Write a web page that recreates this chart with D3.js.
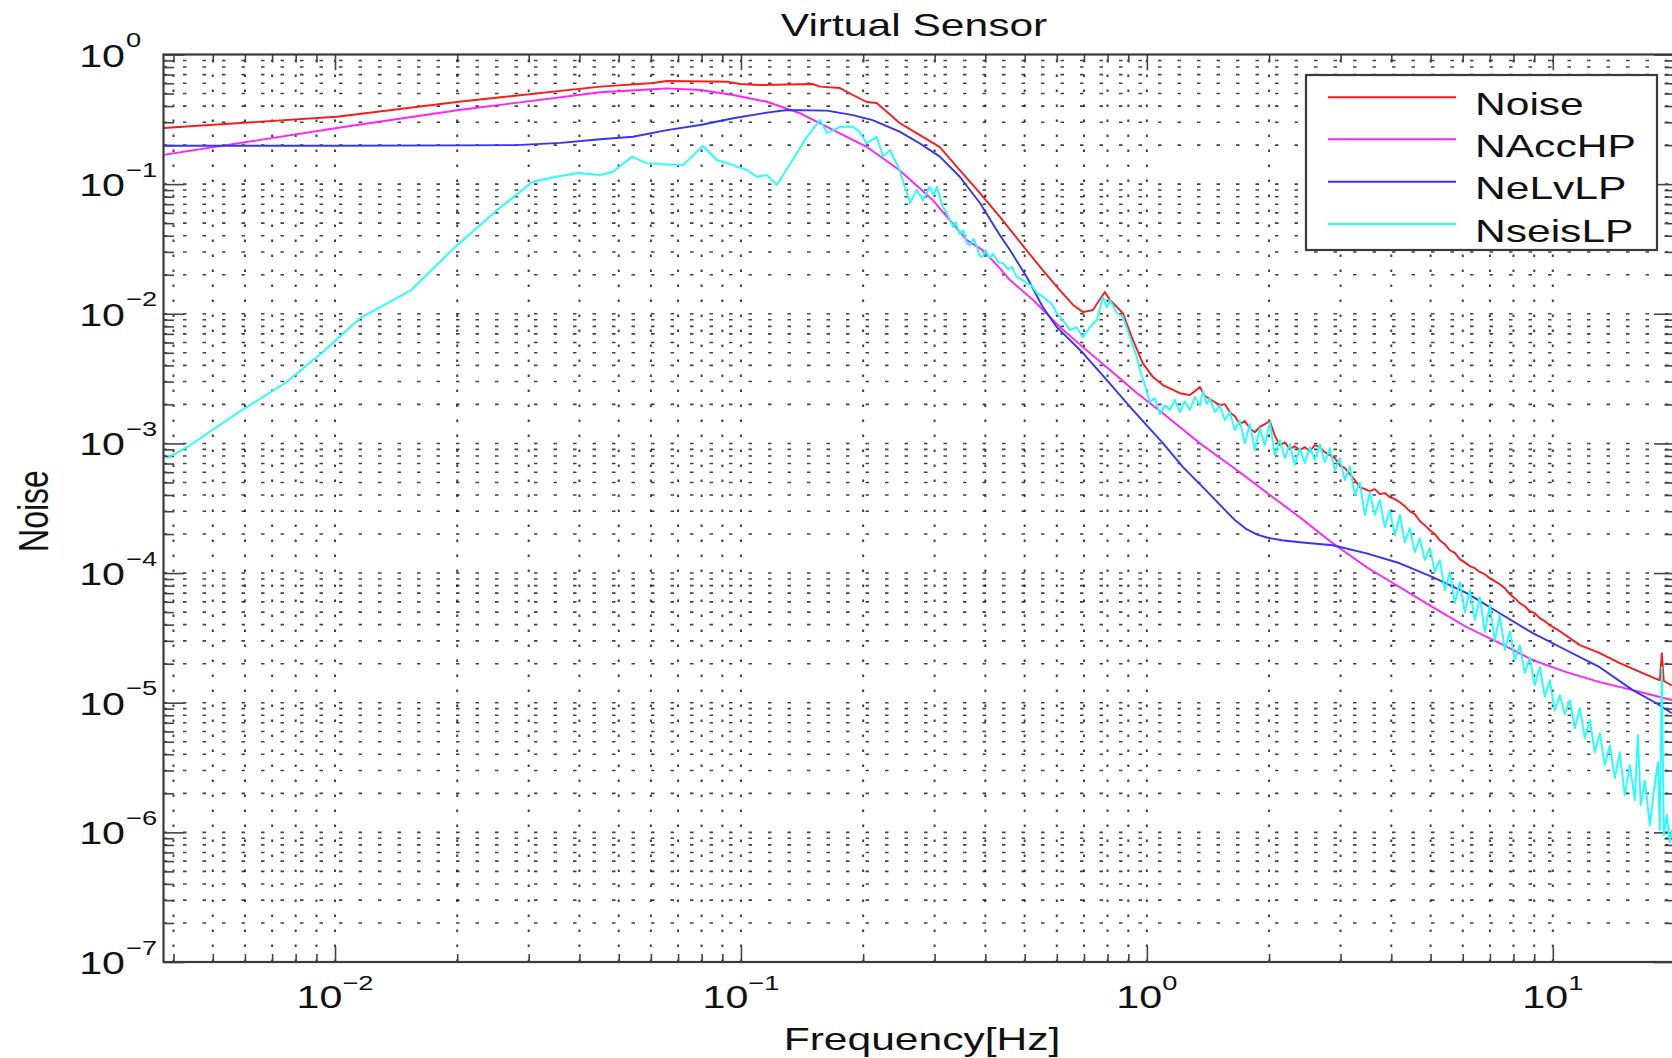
<!DOCTYPE html>
<html>
<head>
<meta charset="utf-8">
<script src="https://cdn.jsdelivr.net/npm/d3@7"></script>
<style>
  html, body { margin: 0; padding: 0; background: #fff; }
  svg { display: block; }
  text { font-family: "Liberation Sans", Arial, Helvetica, sans-serif; fill: #111; }
</style>
</head>
<body>
<svg id="chart" width="1672" height="1058"></svg>
<script>
// Virtual sensor noise budget: amplitude spectra of the noise contributions vs frequency.
const seriesNames  = ["Noise", "NAccHP", "NeLvLP", "NseisLP"];
const seriesColors = ["#ff1a1a", "#ff22ff", "#3333ff", "#22ffff"];

// [frequency in Hz, noise amplitude]
const noise = [
  [0.00378,0.271],[0.0101,0.331],[0.0202,0.432],[0.045,0.565],[0.0607,0.603],[0.0657,0.624],
  [0.0924,0.617],[0.0995,0.592],[0.1114,0.582],[0.150,0.592],[0.1566,0.565],[0.1754,0.551],
  [0.1887,0.487],[0.204,0.430],[0.216,0.423],[0.246,0.296],[0.276,0.239],[0.309,0.193],
  [0.346,0.128],[0.388,0.0854],[0.435,0.0557],[0.505,0.0310],[0.554,0.0217],[0.610,0.0152],
  [0.658,0.0117],[0.696,0.0103],[0.736,0.0107],[0.788,0.0147],[0.811,0.0128],[0.873,0.0101],
  [0.924,0.00626],[0.977,0.00416],[1.035,0.00325],[1.095,0.00282],[1.206,0.00244],
  [1.276,2.36e-3],[1.313,2.53e-3],[1.351,2.72e-3],[1.390,2.32e-3],[1.429,2.20e-3],[1.471,2.08e-3],
  [1.513,1.97e-3],[1.556,2.01e-3],[1.601,1.74e-3],[1.647,1.62e-3],[1.694,1.41e-3],[1.743,1.49e-3],
  [1.794,1.31e-3],[1.845,1.22e-3],[1.898,1.34e-3],[1.953,1.41e-3],[2.009,1.49e-3],[2.067,1.14e-3],
  [2.126,9.70e-4],[2.188,1.02e-3],[2.250,9.04e-4],[2.315,9.53e-4],[2.381,8.88e-4],[2.450,9.36e-4],
  [2.520,8.73e-4],[2.593,9.70e-4],[2.668,9.36e-4],[2.744,8.57e-4],[2.823,8.13e-4],[2.905,7.70e-4],
  [2.988,6.81e-4],[3.074,6.45e-4],[3.162,5.79e-4],[3.253,5.21e-4],[3.347,4.60e-4],[3.443,4.44e-4],
  [3.542,4.28e-4],[3.644,4.44e-4],[3.749,4.06e-4],[3.857,4.14e-4],[3.967,3.85e-4],[4.082,3.72e-4],
  [4.199,3.52e-4],[4.320,3.28e-4],[4.444,3.00e-4],[4.572,2.85e-4],[4.703,2.52e-4],[4.839,2.34e-4],
  [4.977,2.14e-4],[5.121,2.00e-4],[5.268,1.79e-4],[5.420,1.67e-4],[5.575,1.50e-4],[5.736,1.43e-4],
  [5.901,1.28e-4],[6.071,1.21e-4],[6.245,1.13e-4],[6.425,1.09e-4],[6.609,1.02e-4],[6.800,9.80e-5],
  [6.995,9.14e-5],[7.196,8.66e-5],[7.403,8.20e-5],[7.616,7.64e-5],[7.835,6.87e-5],[8.061,6.40e-5],
  [8.293,5.86e-5],[8.531,5.55e-5],[8.777,5.08e-5],[9.030,4.90e-5],[9.290,4.49e-5],[9.557,4.25e-5],
  [9.831,3.96e-5],[10.11,3.76e-5],[10.41,3.56e-5],[11.66,2.78e-5],[13.06,2.41e-5],[14.62,2.02e-5],
  [16.66,1.69e-5],[18.35,1.49e-5],[18.56,2.41e-5],[18.77,1.47e-5],[19.64,1.36e-5]
];

const nAccHP = [
  [0.00378,0.168],[0.0101,0.271],[0.0202,0.373],[0.045,0.511],[0.0607,0.539],[0.0657,0.548],
  [0.0794,0.532],[0.0957,0.487],[0.1159,0.432],[0.140,0.352],[0.169,0.261],[0.204,0.194],
  [0.246,0.128],[0.297,0.0753],[0.360,0.0370],[0.394,0.0310],[0.434,0.0225],[0.460,0.0182],
  [0.524,0.0128],[0.611,0.00789],[0.696,0.00553],[0.811,0.00368],[0.945,0.00245],[1.095,0.00171],
  [1.35,0.001005],[1.63,0.000656],[1.98,0.000414],[2.38,0.000270],[2.87,0.000170],[3.48,0.000111],
  [4.20,7.78e-5],[5.06,5.46e-5],[6.14,3.82e-5],[7.40,2.88e-5],[8.93,2.13e-5],[10.8,1.72e-5],
  [13.05,1.44e-5],[15.74,1.25e-5],[19.64,1.05e-5]
];

const neLvLP = [
  [0.00378,0.198],[0.01,0.198],[0.02,0.199],[0.028,0.200],[0.036,0.208],[0.045,0.222],
  [0.0542,0.232],[0.0657,0.261],[0.0794,0.286],[0.0957,0.322],[0.1159,0.356],[0.1298,0.373],
  [0.163,0.369],[0.1887,0.341],[0.211,0.312],[0.246,0.254],[0.276,0.206],[0.309,0.163],
  [0.346,0.114],[0.388,0.0715],[0.434,0.0405],[0.460,0.031],[0.506,0.0192],[0.554,0.01127],
  [0.600,0.00789],[0.696,0.00498],[0.797,0.00308],[0.924,0.00181],[1.095,0.001005],[1.227,0.000656],
  [1.374,0.000460],[1.539,0.000318],[1.65,0.000255],[1.76,0.000218],[1.87,0.000198],[1.975,0.000188],
  [2.15,0.000179],[2.38,0.000173],[2.87,0.000164],
  [3.48,0.000142],[4.20,0.000119],[5.06,9.3e-5],[6.14,7.0e-5],[7.40,4.9e-5],[8.93,3.44e-5],
  [10.8,2.54e-5],[13.05,1.88e-5],[15.74,1.25e-5],[18.0,9.9e-6],[19.64,8.3e-6]
];

const nSeisLP = [
  [0.00385,7.66e-4],[0.00434,9.42e-4],[0.00574,1.71e-3],[0.00762,2.99e-3],[0.00945,5.25e-3],
  [0.01153,9.25e-3],[0.01539,1.52e-2],[0.01976,3.27e-2],[0.0251,6.31e-2],[0.0306,0.1038],
  [0.0348,0.1135],[0.0397,0.122],[0.045,0.1175],[0.0484,0.1247],[0.0539,0.163],[0.0587,0.1445],
  [0.072,0.1403],[0.0806,0.1968],[0.0873,0.1535],[0.0957,0.1403],[0.1035,0.1284],[0.1095,0.114],
  [0.1159,0.1175],[0.1226,0.0984],[0.134,0.1535],[0.1454,0.232],[0.1566,0.312],[0.163,0.248],
  [0.1754,0.277],[0.1887,0.277],[0.196,0.254],[0.204,0.206],[0.216,0.232],[0.224,0.163],
  [0.233,0.183],[0.246,0.128],[0.261,0.0715],[0.271,0.090],[0.281,0.0753],[0.292,0.0955],
  [0.298,0.082],[0.304,0.0955],[0.314,0.067],[0.323,0.058],[0.333,0.0469],[0.338,0.051],
  [0.346,0.041],[0.353,0.044],[0.360,0.0351],[0.367,0.034],[0.374,0.038],[0.381,0.0329],
  [0.387,0.028],[0.394,0.0275],[0.40,0.031],[0.41,0.027],[0.418,0.029],[0.43,0.025],
  [0.442,0.0246],[0.455,0.022],[0.465,0.023],[0.478,0.0192],[0.49,0.0185],[0.506,0.01725],
  [0.52,0.0165],[0.536,0.01445],[0.55,0.0138],[0.567,0.01276],[0.585,0.0118],
  [0.600,0.0101],[0.621,0.00893],[0.646,0.00748],[0.672,0.00789],[0.696,0.0066],[0.724,0.00789],
  [0.753,0.00893],[0.779,0.01345],[0.797,0.01127],[0.811,0.01276],[0.844,0.0101],[0.873,0.00944],
  [0.908,0.0066],[0.945,0.00464],
  [0.961,3.68e-3],[0.989,2.82e-3],[1.017,2.08e-3],[1.046,2.24e-3],[1.077,1.68e-3],[1.107,1.97e-3],
  [1.139,1.81e-3],[1.172,2.16e-3],[1.206,1.74e-3],[1.240,2.12e-3],[1.276,1.81e-3],[1.313,2.28e-3],
  [1.351,1.97e-3],[1.374,2.53e-3],[1.405,2.01e-3],[1.429,2.24e-3],[1.471,1.74e-3],[1.513,1.97e-3],
  [1.556,1.51e-3],[1.601,1.74e-3],[1.647,1.27e-3],[1.694,1.51e-3],[1.743,1.00e-3],[1.794,1.41e-3],
  [1.845,8.88e-4],[1.898,1.31e-3],[1.953,9.70e-4],[2.009,1.46e-3],[2.067,8.13e-4],[2.126,1.06e-3],
  [2.188,7.70e-4],[2.250,9.88e-4],[2.315,6.81e-4],[2.381,9.20e-4],[2.450,7.05e-4],[2.520,9.36e-4],
  [2.593,7.43e-4],[2.668,9.88e-4],[2.744,7.18e-4],[2.823,9.20e-4],[2.905,6.22e-4],[2.988,7.70e-4],
  [3.074,5.21e-4],[3.162,6.68e-4],[3.253,3.99e-4],[3.347,5.03e-4],[3.443,2.80e-4],[3.542,4.21e-4],
  [3.644,2.80e-4],[3.749,3.65e-4],[3.857,2.26e-4],[3.967,3.06e-4],[4.082,1.96e-4],[4.199,2.80e-4],
  [4.320,1.73e-4],[4.444,2.22e-4],[4.572,1.45e-4],[4.703,1.86e-4],[4.839,1.26e-4],[4.977,1.56e-4],
  [5.121,1.02e-4],[5.268,1.26e-4],[5.420,7.38e-5],[5.575,1.02e-4],[5.736,5.86e-5],[5.901,8.51e-5],
  [6.071,4.99e-5],[6.245,7.38e-5],[6.425,4.33e-5],[6.609,6.52e-5],[6.800,3.49e-5],[6.995,5.71e-5],
  [7.196,3.03e-5],[7.403,4.73e-5],[7.616,2.54e-5],[7.835,3.56e-5],[8.061,2.13e-5],[8.293,2.77e-5],
  [8.531,1.69e-5],[8.777,2.24e-5],[9.030,1.36e-5],[9.290,1.88e-5],[9.557,1.11e-5],[9.831,1.49e-5],
  [10.11,8.76e-6],[10.41,1.14e-5],[10.70,8.15e-6],[11.01,1.045e-5],[11.33,6.35e-6],[11.66,9.06e-6],
  [11.99,5.32e-6],[12.34,7.33e-6],[12.69,4.15e-6],[13.06,5.81e-6],[13.43,3.30e-6],[13.82,4.69e-6],
  [14.22,2.61e-6],[14.62,4.15e-6],[15.04,1.93e-6],[15.48,3.30e-6],[15.92,1.77e-6],[16.20,5.61e-6],
  [16.47,1.62e-6],[16.85,2.52e-6],[17.34,1.13e-6],[17.74,2.11e-6],[18.15,3.47e-6],[18.35,1.04e-6],
  [18.56,1.88e-5],[18.77,9.51e-7],[19.09,1.36e-6],[19.42,8.39e-7],[19.64,1.04e-6]
];

const allSeries = [noise, nAccHP, neLvLP, nSeisLP];

// Axis limits and tick labels
const xLimits = [0.00378, 20];
const yLimits = [1e-7, 1];
const xMajorTicks = [0.01, 0.1, 1, 10];
const xTickExponents = ["\u22122", "\u22121", "0", "1"];
const yMajorTicks = [1, 1e-1, 1e-2, 1e-3, 1e-4, 1e-5, 1e-6, 1e-7];
const yTickExponents = ["0", "\u22121", "\u22122", "\u22123", "\u22124", "\u22125", "\u22126", "\u22127"];
const titleText = "Virtual Sensor";
const xLabelText = "Frequency[Hz]";
const yLabelText = "Noise";

// Layout
const W = 1672, H = 1058;
const plot = { left: 163.5, right: 1675, top: 54.5, bottom: 962 };
const SX = 1.33;            // horizontal stretch of the rendered figure text

const svg = d3.select("#chart");
const x = d3.scaleLog().domain(xLimits).range([plot.left, plot.right]);
const y = d3.scaleLog().domain(yLimits).range([plot.bottom, plot.top]);

// minor tick positions (2..9 times each decade inside the limits)
function minorTicks(lo, hi) {
  const out = [];
  for (let e = Math.floor(Math.log10(lo)); e <= Math.ceil(Math.log10(hi)); e++) {
    for (let m = 2; m <= 9; m++) {
      const v = m * Math.pow(10, e);
      if (v >= lo * 0.999 && v <= hi * 1.001) out.push(v);
    }
  }
  return out;
}
const xMinor = minorTicks(xLimits[0], xLimits[1]);
const yMinor = minorTicks(yLimits[0], yLimits[1]);
const xGridVals = xMajorTicks.concat(xMinor);
const yGridVals = yMajorTicks.filter(v => v < 1 && v > 1e-7).concat(yMinor);

svg.append("rect").attr("width", W).attr("height", H).attr("fill", "#fff");
svg.append("rect").attr("x", plot.left).attr("y", plot.top)
  .attr("width", plot.right - plot.left).attr("height", plot.bottom - plot.top).attr("fill", "#fff");

// dotted grid
const grid = svg.append("g").attr("stroke", "#111").attr("stroke-opacity", 0.8).attr("fill", "none");
grid.selectAll("line.h").data(yGridVals).join("line").attr("class", "h")
  .attr("x1", plot.left).attr("x2", plot.right)
  .attr("y1", d => y(d)).attr("y2", d => y(d))
  .attr("stroke-width", 1.6).attr("stroke-dasharray", "3.5 16");
grid.selectAll("line.v").data(xGridVals).join("line").attr("class", "v")
  .attr("x1", d => x(d)).attr("x2", d => x(d))
  .attr("y1", plot.bottom).attr("y2", plot.top)
  .attr("stroke-width", 2).attr("stroke-dasharray", "2.5 12.5");

// tick marks on all four sides, pointing inwards
const tickColor = "#444";
function styleAxis(g) {
  g.select(".domain").remove();
  g.selectAll(".tick line").attr("stroke", tickColor).attr("stroke-width", 1.6);
  g.selectAll(".tick text").remove();
}
svg.append("g").attr("transform", `translate(0,${plot.bottom})`)
  .call(d3.axisBottom(x).tickValues(xMajorTicks).tickSize(-15.7).tickFormat("")).call(styleAxis);
svg.append("g").attr("transform", `translate(0,${plot.bottom})`)
  .call(d3.axisBottom(x).tickValues(xMinor).tickSize(-8).tickFormat("")).call(styleAxis);
svg.append("g").attr("transform", `translate(0,${plot.top})`)
  .call(d3.axisTop(x).tickValues(xMajorTicks).tickSize(-15.7).tickFormat("")).call(styleAxis);
svg.append("g").attr("transform", `translate(0,${plot.top})`)
  .call(d3.axisTop(x).tickValues(xMinor).tickSize(-8).tickFormat("")).call(styleAxis);
svg.append("g").attr("transform", `translate(${plot.left},0)`)
  .call(d3.axisLeft(y).tickValues(yMajorTicks).tickSize(-21).tickFormat("")).call(styleAxis);
svg.append("g").attr("transform", `translate(${plot.left},0)`)
  .call(d3.axisLeft(y).tickValues(yMinor).tickSize(-10.5).tickFormat("")).call(styleAxis);
svg.append("g").attr("transform", `translate(${plot.right},0)`)
  .call(d3.axisRight(y).tickValues(yMajorTicks).tickSize(-21).tickFormat("")).call(styleAxis);
svg.append("g").attr("transform", `translate(${plot.right},0)`)
  .call(d3.axisRight(y).tickValues(yMinor).tickSize(-10.5).tickFormat("")).call(styleAxis);

// curves, clipped to the axes box
svg.append("clipPath").attr("id", "plotClip").append("rect")
  .attr("x", plot.left).attr("y", plot.top)
  .attr("width", plot.right - plot.left).attr("height", plot.bottom - plot.top);
const line = d3.line().x(d => x(d[0])).y(d => y(d[1]));
svg.append("g").attr("clip-path", "url(#plotClip)")
  .selectAll("path").data(allSeries).join("path")
  .attr("d", line)
  .attr("fill", "none")
  .attr("stroke", (d, i) => seriesColors[i])
  .attr("stroke-width", 1.9)
  .attr("stroke-linejoin", "round");

// axes box
svg.append("rect").attr("x", plot.left).attr("y", plot.top)
  .attr("width", plot.right - plot.left).attr("height", plot.bottom - plot.top)
  .attr("fill", "none").attr("stroke", "#3a3a3a").attr("stroke-width", 2.2);

// text helper: figure text is drawn with a horizontal stretch
function label(parent, px, py, anchor, size) {
  return parent.append("text")
    .attr("transform", `translate(${px},${py}) scale(${SX},1)`)
    .attr("text-anchor", anchor)
    .style("font-size", size + "px");
}

// y tick labels: "10" right-aligned, exponent raised after it
yMajorTicks.forEach((v, i) => {
  const ty = y(v);
  label(svg, 125, ty + 12, "end", 31).text("10");
  label(svg, 126, ty - 7.5, "start", 20.5).text(yTickExponents[i]);
});

// x tick labels centred on the tick
xMajorTicks.forEach((v, i) => {
  const t = label(svg, x(v), 1008, "middle", 31);
  t.append("tspan").text("10");
  t.append("tspan").attr("dy", -18).style("font-size", "20.5px").text(xTickExponents[i]);
});

// title and axis labels
label(svg, 914, 36, "middle", 32).text(titleText);
label(svg, 922, 1050, "middle", 32).text(xLabelText);
svg.append("text")
  .attr("transform", `translate(48,511) scale(${SX},1) rotate(-90)`)
  .attr("text-anchor", "middle").style("font-size", "32px").text(yLabelText);

// legend
const legend = { left: 1306, top: 75, right: 1657, bottom: 250 };
svg.append("rect").attr("x", legend.left).attr("y", legend.top)
  .attr("width", legend.right - legend.left).attr("height", legend.bottom - legend.top)
  .attr("fill", "#fff").attr("stroke", "#3a3a3a").attr("stroke-width", 2.2);
const rowY = [97.3, 139.3, 181.7, 224];
seriesNames.forEach((name, i) => {
  svg.append("line").attr("x1", 1328).attr("x2", 1456)
    .attr("y1", rowY[i]).attr("y2", rowY[i])
    .attr("stroke", seriesColors[i]).attr("stroke-width", 2);
  label(svg, 1475, rowY[i] + 17.5, "start", 32).text(name);
});
</script>
</body>
</html>
